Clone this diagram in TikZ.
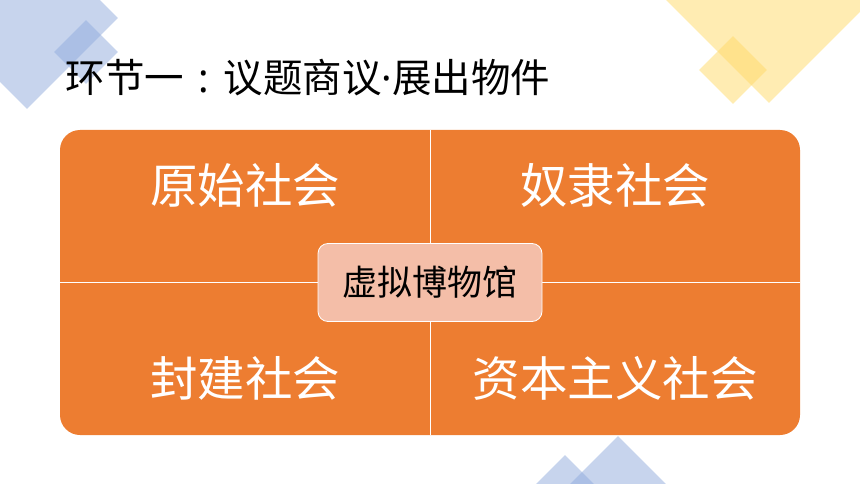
\documentclass[tikz,border=0pt]{standalone}
\usepackage{fontspec}
\setmainfont{Noto Sans CJK SC}
\newfontfamily\latinFont{Noto Sans}
\usepackage{xcolor}
\usetikzlibrary{positioning,calc,shapes.geometric}
\definecolor{panelOrange}{RGB}{237,125,49}
\definecolor{hubPink}{RGB}{244,190,168}
\definecolor{decoBlue}{RGB}{143,170,220}
\definecolor{decoYellow}{RGB}{255,217,102}
\tikzset{
  decoDiamond/.style={
    diamond,
    inner sep=0pt,
    fill opacity=0.5,
    aspect=1
  },
  panelBox/.style={
    rectangle,
    rounded corners=20pt,
    fill=panelOrange,
    minimum width=740pt,
    minimum height=305pt
  },
  eraLabel/.style={
    text=white,
    font=\fontsize{47.5}{47.5}\selectfont
  },
  hubBox/.style={
    rectangle,
    rounded corners=10pt,
    draw=white,
    line width=0.8pt,
    fill=hubPink,
    minimum width=224pt,
    minimum height=78pt,
    font=\fontsize{35}{35}\selectfont
  },
  dividerLine/.style={
    draw=white,
    line width=1pt
  }
}

\begin{document}
\begin{tikzpicture}[x=1pt,y=-1pt]
        \useasboundingbox (0,0) rectangle (860,484);
        \begin{scope}
            \clip (0,0) rectangle (860,484);
            % corner decorations
            \node[decoDiamond, fill=decoBlue, minimum size=182pt] (blueBig) at (27,18) {};
            \node[decoDiamond, fill=decoBlue, minimum size=64pt] (blueSmall) at (86,52) {};
            \node[decoDiamond, fill=decoYellow, minimum size=206pt] (yellowBig) at (769,0) {};
            \node[decoDiamond, fill=decoYellow, minimum size=68pt] (yellowSmall) at (733,70) {};
            \node[decoDiamond, fill=decoBlue, minimum size=168pt] (bottomBig) at (618,520) {};
            \node[decoDiamond, fill=decoBlue, minimum size=130pt] (bottomSmall) at (565,520) {};
        \end{scope}

        \node[anchor=west, font=\fontsize{39.5}{39.5}\selectfont] (title) at (62,78)
            {环节一{\latinFont\makebox[1em]{:}}议题商议{\latinFont ·}展出物件};

        \node[panelBox] (panel) at (430,282.5) {};
        \draw[dividerLine] (panel.north) -- (panel.south);
        \draw[dividerLine] (panel.west) -- (panel.east);

        \node[eraLabel] (primitive) at (245,185) {原始社会};
        \node[eraLabel] (slave) at (615,185) {奴隶社会};
        \node[eraLabel] (feudal) at (245,378) {封建社会};
        \node[eraLabel] (capital) at (615,378) {资本主义社会};

        \node[hubBox] (museum) at (panel.center) {虚拟博物馆};
    \end{tikzpicture}
\end{document}
